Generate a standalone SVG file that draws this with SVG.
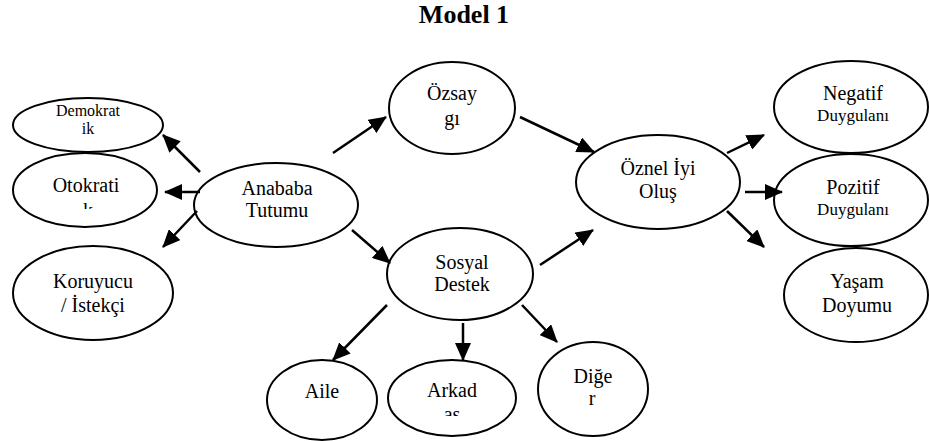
<svg xmlns="http://www.w3.org/2000/svg" width="929" height="441" viewBox="0 0 929 441" font-family="'Liberation Serif', 'DejaVu Serif', serif">
<style>
.n ellipse{fill:#fff;stroke:#000;stroke-width:2}
text{font-family:'Liberation Serif','DejaVu Serif',serif;fill:#000;text-anchor:middle}
.t{font-size:20px}
.s{font-size:17px}
.d{font-size:16px}
.title{font-size:26px;font-weight:bold}
#connectors line{stroke:#000;stroke-width:2.5;marker-end:url(#ah)}
</style>
<defs>
<marker id="ah" markerUnits="userSpaceOnUse" markerWidth="18" markerHeight="16" refX="17" refY="8" orient="auto">
<path d="M0,0 L18,8 L0,16 z" fill="#000"/>
</marker>
<clipPath id="cOto"><rect x="40" y="201" width="100" height="8"/></clipPath>
<clipPath id="cArk"><rect x="400" y="409" width="100" height="7"/></clipPath>
</defs>
<rect width="929" height="441" fill="#fff"/>
<text class="title" x="464" y="23">Model 1</text>

<g id="demokratik" class="n"><ellipse cx="88" cy="125" rx="75" ry="27"/><text class="d" x="88" y="116">Demokrat</text><text class="d" x="88" y="134">ik</text></g>
<g id="otokratik" class="n"><ellipse cx="85" cy="190" rx="72" ry="37"/><text class="t" x="86" y="192">Otokrati</text><text class="t" x="88" y="217" clip-path="url(#cOto)">k</text></g>
<g id="koruyucu" class="n"><ellipse cx="93" cy="293" rx="80" ry="47"/><text class="t" x="93" y="288">Koruyucu</text><text class="t" x="93" y="312">/ İstekçi</text></g>
<g id="anababa" class="n"><ellipse cx="276" cy="205" rx="82" ry="42"/><text class="t" x="277" y="195">Anababa</text><text class="t" x="277" y="217">Tutumu</text></g>
<g id="ozsaygi" class="n"><ellipse cx="452" cy="108" rx="63" ry="46"/><text class="t" x="452" y="100">Özsay</text><text class="t" x="452" y="125">gı</text></g>
<g id="sosyal" class="n"><ellipse cx="460" cy="274" rx="73" ry="46"/><text class="t" x="462" y="269">Sosyal</text><text class="t" x="462" y="291">Destek</text></g>
<g id="oznel" class="n"><ellipse cx="658" cy="182" rx="82" ry="47"/><text class="t" x="658" y="175">Öznel İyi</text><text class="t" x="658" y="198">Oluş</text></g>
<g id="negatif" class="n"><ellipse cx="851" cy="107" rx="77" ry="46"/><text class="t" x="853" y="100">Negatif</text><text class="s" x="853" y="121">Duygulanı</text></g>
<g id="pozitif" class="n"><ellipse cx="851" cy="200" rx="77" ry="46"/><text class="t" x="853" y="194">Pozitif</text><text class="s" x="853" y="215">Duygulanı</text></g>
<g id="yasam" class="n"><ellipse cx="856" cy="295" rx="72" ry="47"/><text class="t" x="857" y="288">Yaşam</text><text class="t" x="857" y="312">Doyumu</text></g>
<g id="aile" class="n"><ellipse cx="322" cy="400" rx="55" ry="40"/><text class="t" x="322" y="398">Aile</text></g>
<g id="arkadas" class="n"><ellipse cx="452" cy="398" rx="64" ry="38"/><text class="t" x="452" y="397">Arkad</text><text class="t" x="452" y="421" clip-path="url(#cArk)">aş</text></g>
<g id="diger" class="n"><ellipse cx="593" cy="389" rx="55" ry="47"/><text class="t" x="593" y="383">Diğe</text><text class="t" x="592" y="405">r</text></g>

<g id="connectors">
<line x1="200" y1="172" x2="163" y2="135"/>
<line x1="200" y1="192" x2="165" y2="192"/>
<line x1="197" y1="211" x2="163" y2="247"/>
<line x1="333" y1="153" x2="386" y2="117"/>
<line x1="352" y1="230" x2="390" y2="263"/>
<line x1="520" y1="117" x2="594" y2="152"/>
<line x1="540" y1="265" x2="593" y2="230"/>
<line x1="727" y1="153" x2="764" y2="135"/>
<line x1="745" y1="192" x2="782" y2="192"/>
<line x1="727" y1="211" x2="764" y2="247"/>
<line x1="387" y1="305" x2="333" y2="360"/>
<line x1="463" y1="323" x2="463" y2="360"/>
<line x1="522" y1="305" x2="557" y2="342"/>
</g>
</svg>
